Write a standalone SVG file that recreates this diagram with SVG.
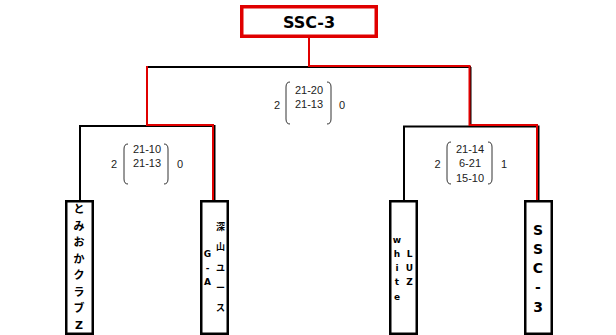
<svg xmlns="http://www.w3.org/2000/svg" width="616" height="335" viewBox="0 0 616 335">
<style>
.bk{stroke:#000;stroke-width:2;fill:none}
.rd{stroke:#e00000;stroke-width:2;fill:none}
.node{fill:#fff;stroke:#000;stroke-width:2.5}
.paren{fill:none;stroke:#333;stroke-width:1}
.sc{font-family:"Liberation Sans",Arial,sans-serif;font-size:11px;fill:#222;text-anchor:middle;dominant-baseline:central}
.nt{font-family:"DejaVu Sans","Noto Sans CJK JP",sans-serif;font-weight:bold;fill:#000;text-anchor:middle;dominant-baseline:central}
</style>
<rect width="616" height="335" fill="#fff"/>
<g id="connectors">
  <path class="bk" d="M147,67 H471 M147,67 V126 M470.5,67 V127"/>
  <path class="bk" d="M80,126 H215.5 M80,125 V201 M214.5,126 V201"/>
  <path class="bk" d="M404,126.5 H539.5 M404,125.5 V201 M538.5,126 V201"/>
  <path class="rd" d="M309,37 V66 H469.5 V125 H537 V201"/>
  <path class="rd" d="M147,66 V125 H213 V201"/>
</g>
<g id="title">
  <rect x="241.75" y="6.75" width="134.5" height="29.5" fill="#fff" stroke="#e00000" stroke-width="3.5"/>
  <text x="309" y="22" class="nt" font-size="16">SSC-3</text>
</g>
<g id="score-final">
  <text class="sc" x="277" y="105">2</text>
  <path class="paren" d="M290,82 Q286,82 286,87 V119 Q286,124 290,124"/>
  <text class="sc" x="309" y="90">21-20</text>
  <text class="sc" x="309" y="104">21-13</text>
  <path class="paren" d="M327,82 Q331,82 331,87 V119 Q331,124 327,124"/>
  <text class="sc" x="342" y="105">0</text>
</g>
<g id="score-left">
  <text class="sc" x="114" y="164">2</text>
  <path class="paren" d="M128,144 Q124,144 124,149 V179 Q124,184 128,184"/>
  <text class="sc" x="147" y="149">21-10</text>
  <text class="sc" x="147" y="163">21-13</text>
  <path class="paren" d="M164,144 Q168,144 168,149 V179 Q168,184 164,184"/>
  <text class="sc" x="180" y="164">0</text>
</g>
<g id="score-right">
  <text class="sc" x="437.5" y="164">2</text>
  <path class="paren" d="M451,142 Q447,142 447,147 V179 Q447,184 451,184"/>
  <text class="sc" x="470" y="148.5">21-14</text>
  <text class="sc" x="470" y="163">6-21</text>
  <text class="sc" x="470" y="178">15-10</text>
  <path class="paren" d="M488,142 Q492,142 492,147 V179 Q492,184 488,184"/>
  <text class="sc" x="504" y="164">1</text>
</g>
<g id="node-tomioka">
  <rect class="node" x="66.25" y="201.25" width="26.5" height="132.5"/>
  <g class="nt" font-size="11">
    <text x="79" y="209.5">と</text>
    <text x="79" y="226">み</text>
    <text x="79" y="242.5">お</text>
    <text x="79" y="259">か</text>
    <text x="79" y="275.5">ク</text>
    <text x="79" y="292">ラ</text>
    <text x="79" y="308.5">ブ</text>
    <text x="79" y="325.5">Z</text>
  </g>
</g>
<g id="node-fukayama">
  <rect class="node" x="201.25" y="201.25" width="26.5" height="132.5"/>
  <g class="nt" font-size="9">
    <text x="220.5" y="227">深</text>
    <text x="220.5" y="247">山</text>
    <text x="220.5" y="267.5">ユ</text>
    <text x="220.5" y="288">ー</text>
    <text x="220.5" y="308">ス</text>
    <text x="207.5" y="254">G</text>
    <text x="207.5" y="268">-</text>
    <text x="207.5" y="282">A</text>
  </g>
</g>
<g id="node-white-luz">
  <rect class="node" x="390.25" y="201.25" width="26.5" height="132.5"/>
  <g class="nt" font-size="9">
    <text x="397" y="240">w</text>
    <text x="397" y="254">h</text>
    <text x="397" y="268">i</text>
    <text x="397" y="282">t</text>
    <text x="397" y="297">e</text>
    <text x="409.5" y="254">L</text>
    <text x="409.5" y="268">U</text>
    <text x="409.5" y="282">Z</text>
  </g>
</g>
<g id="node-ssc3">
  <rect class="node" x="525.25" y="201.25" width="26.5" height="132.5"/>
  <g class="nt" font-size="14">
    <text x="538" y="229.5">S</text>
    <text x="538" y="249">S</text>
    <text x="538" y="268">C</text>
    <text x="538" y="287">-</text>
    <text x="538" y="306.5">3</text>
  </g>
</g>
</svg>
